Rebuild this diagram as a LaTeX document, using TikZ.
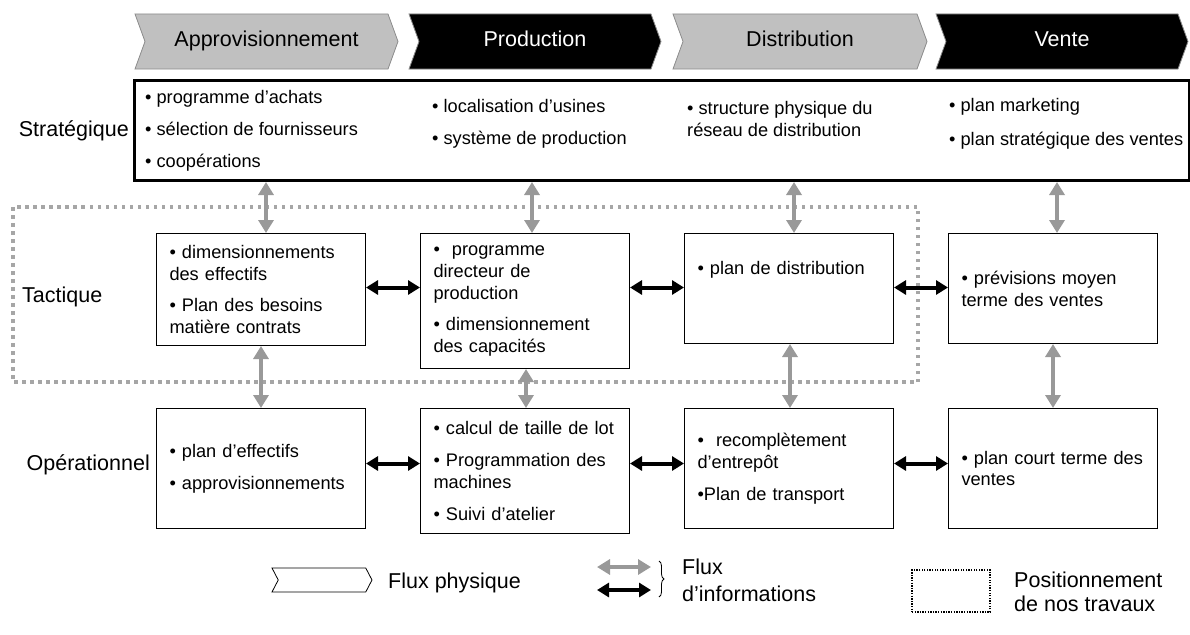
\documentclass[tikz,border=0pt]{standalone}
\usepackage{fontspec}
\setmainfont{Liberation Sans}
\usetikzlibrary{arrows.meta,shapes.symbols,decorations.pathreplacing}
\definecolor{chevGrey}{RGB}{192,192,192}
\definecolor{chevEdge}{RGB}{140,140,140}
\definecolor{infoGrey}{RGB}{153,153,153}
\definecolor{zoneGrey}{RGB}{166,166,166}

\tikzset{
  phase/.style={signal, signal to=east, signal from=west, signal pointer angle=140,
    minimum height=55pt, draw=chevEdge, line width=0.8pt, inner sep=0pt,
    text height=15.5pt, text depth=4.5pt, font=\fontsize{21.5}{24}\selectfont},
  phasegrey/.style={phase, fill=chevGrey, text=black},
  phaseblack/.style={phase, fill=black, text=white},
  levelbox/.style={draw, line width=1pt, anchor=north, text width=183pt, inner xsep=13pt,
    align=left, font=\fontsize{18.2}{21.8}\selectfont},
  item/.style={anchor=west, align=left, inner sep=0pt, font=\fontsize{18.2}{21.8}\selectfont},
  level/.style={inner sep=0pt, font=\fontsize{21.5}{24}\selectfont},
  ginfo/.style={infoGrey, line width=4.5pt, {Triangle[length=13pt,width=15pt]}-{Triangle[length=13pt,width=15pt]}},
  binfo/.style={black, line width=4pt, {Triangle[length=12pt,width=14pt]}-{Triangle[length=12pt,width=14pt]}},
}

\begin{document}
\begin{tikzpicture}[x=1pt, y=-1pt]
            \useasboundingbox (0,0) rectangle (1190,634);

            % chaine : flux physique
            \node[phasegrey, minimum width=263pt] (appro) at (266.5,41.5) {Approvisionnement};
            \node[phaseblack, minimum width=252pt] (prod) at (535,41.5) {Production};
            \node[phasegrey, minimum width=254pt] (distr) at (800,41.5) {Distribution};
            \node[phaseblack, minimum width=252pt] (vente) at (1062,41.5) {Vente};

            % niveau strategique
            \node[draw, line width=3pt, minimum width=1055pt, minimum height=100pt, anchor=north west, inner sep=0pt] (strat) at (133,79) {};
            \node[item] (s1) at (145,131) {• programme d’achats\\[10pt]• sélection de fournisseurs\\[10pt]• coopérations};
            \node[item] (s2) at (432,124) {• localisation d’usines\\[10pt]• système de production};
            \node[item] (s3) at (687,119) {• structure physique du\\réseau de distribution};
            \node[item] (s4) at (949,123.5) {• plan marketing\\[12pt]• plan stratégique des ventes};

            % zone de nos travaux
            \draw[zoneGrey, line width=3.5pt, dash pattern=on 3.5pt off 4.5pt] (13,207) rectangle (918,382);

            % niveau tactique
            \node[levelbox, minimum height=112pt] (tapp) at (261,233) {• dimensionnements\\des effectifs\\[10pt]• Plan des besoins\\matière contrats};
            \node[levelbox, minimum height=135pt] (tpro) at (525,233) {•\ \ programme\\directeur de\\production\\[10pt]• dimensionnement\\des capacités};
            \node[levelbox, minimum height=110pt] (tdis) at (789,233) {• plan de distribution\\[20pt]\ };
            \node[levelbox, minimum height=110pt] (tven) at (1053,233) {• prévisions moyen\\terme des ventes};

            % niveau operationnel
            \node[levelbox, minimum height=120pt] (oapp) at (261,408) {• plan d’effectifs\\[10pt]• approvisionnements};
            \node[levelbox, minimum height=125pt] (opro) at (525,408) {• calcul de taille de lot\\[10pt]• Programmation des\\machines\\[10pt]• Suivi d’atelier};
            \node[levelbox, minimum height=120pt] (odis) at (789,408) {•\ \ recomplètement\\d’entrepôt\\[10pt]•Plan de transport};
            \node[levelbox, minimum height=120pt] (oven) at (1053,408) {• plan court terme des\\ventes};

            \node[level, anchor=east] (lstrat) at (129,131) {Stratégique};
            \node[level, anchor=west] (ltact) at (22,297) {Tactique};
            \node[level, anchor=east] (lop) at (150,465) {Opérationnel};

            % flux d'informations verticaux
            \draw[ginfo] ([xshift=5pt]tapp.north) -- ([xshift=5pt]tapp.north |- strat.south);
            \draw[ginfo] ([xshift=7pt]tpro.north) -- ([xshift=7pt]tpro.north |- strat.south);
            \draw[ginfo] ([xshift=5pt]tdis.north) -- ([xshift=5pt]tdis.north |- strat.south);
            \draw[ginfo] ([xshift=4pt]tven.north) -- ([xshift=4pt]tven.north |- strat.south);
            \draw[ginfo] (tapp.south) -- (tapp.south |- oapp.north);
            \draw[ginfo] ([xshift=1pt]tpro.south) -- ([xshift=1pt]opro.north);
            \draw[ginfo] ([xshift=1pt]tdis.south) -- ([xshift=1pt]odis.north);
            \draw[ginfo] (tven.south) -- (oven.north);

            % flux d'informations horizontaux
            \draw[binfo] ([yshift=2pt]tapp.east) -- ([yshift=2pt]tapp.east -| tpro.west);
            \draw[binfo] ([yshift=1pt]tdis.west -| tpro.east) -- ([yshift=1pt]tdis.west);
            \draw[binfo] ([yshift=1pt]tdis.east) -- ([yshift=1pt]tven.west);
            \draw[binfo] ([yshift=5pt]oapp.east) -- ([yshift=5pt]oapp.east -| opro.west);
            \draw[binfo] ([yshift=5pt]odis.west -| opro.east) -- ([yshift=5pt]odis.west);
            \draw[binfo] ([yshift=5pt]odis.east) -- ([yshift=5pt]oven.west);

            % legende
            \node[phase, draw=black, fill=white, line width=0.8pt, signal pointer angle=125, minimum width=100pt, minimum height=24pt, text height=0pt, text depth=0pt] (lphys) at (322,580) {};
            \node[level, anchor=west] (lphystxt) at (388,583) {Flux physique};
            \coordinate (lg1) at (597,567);
            \coordinate (lg2) at (651,567);
            \coordinate (lb1) at (597,590);
            \coordinate (lb2) at (651,590);
            \draw[ginfo] (lg1) -- (lg2);
            \draw[binfo] (lb1) -- (lb2);
            \coordinate (lbr1) at (659,561);
            \coordinate (lbr2) at (659,597);
            \draw[decorate, decoration={brace, amplitude=5pt}, line width=0.8pt] (lbr1) -- (lbr2);
            \node[level, anchor=west, align=left, font=\fontsize{21.5}{27}\selectfont] (linfo) at (682,580) {Flux\\d’informations};
            \node[draw, line width=1.3pt, dash pattern=on 1.3pt off 1.3pt, minimum width=78pt, minimum height=42pt, inner sep=0pt] (lpos) at (951,591) {};
            \node[level, anchor=west, align=left, font=\fontsize{21.5}{23.5}\selectfont] (lpostxt) at (1014,592) {Positionnement\\de nos travaux};
\end{tikzpicture}
\end{document}
